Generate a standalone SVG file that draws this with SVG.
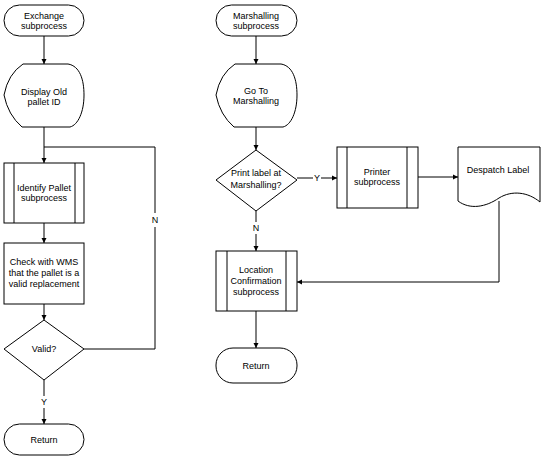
<svg xmlns="http://www.w3.org/2000/svg" width="556" height="470" viewBox="0 0 556 470">
<defs>
<style>
.s{fill:#fff;stroke:#000;stroke-width:1}
.l{fill:none;stroke:#000;stroke-width:1}
.a{fill:none;stroke:#000;stroke-width:1;marker-end:url(#ah)}
text{font-family:"Liberation Sans",Arial,sans-serif;font-size:9px;fill:#000;text-anchor:middle}
</style>
<marker id="ah" markerUnits="userSpaceOnUse" markerWidth="6" markerHeight="6" refX="5" refY="3" orient="auto">
<path d="M0,0.5 L5,3 L0,5.5 Z" fill="#000"/>
</marker>
</defs>
<rect width="556" height="470" fill="#fff"/>
<g id="connectors">
<line class="a" x1="44" y1="36" x2="44" y2="64"/>
<line class="a" x1="44" y1="127" x2="44" y2="163"/>
<line class="a" x1="44" y1="223" x2="44" y2="243"/>
<line class="a" x1="44" y1="304" x2="44" y2="320"/>
<polyline class="l" points="84,349 155,349 155,227"/>
<polyline class="l" points="155,213 155,147 44,147"/>
<text x="155" y="223">N</text>
<line class="l" x1="44" y1="380" x2="44" y2="396"/>
<text x="44" y="405">Y</text>
<line class="a" x1="44" y1="408" x2="44" y2="424"/>
<line class="a" x1="256" y1="36" x2="256" y2="64"/>
<line class="a" x1="256" y1="127" x2="256" y2="150"/>
<line class="l" x1="297" y1="178" x2="313" y2="178"/>
<text x="317" y="181">Y</text>
<line class="a" x1="321" y1="178" x2="337" y2="178"/>
<line class="a" x1="418" y1="177" x2="458" y2="177"/>
<line class="l" x1="256" y1="211" x2="256" y2="222"/>
<text x="256" y="231">N</text>
<line class="a" x1="256" y1="234" x2="256" y2="251"/>
<polyline class="a" points="499,201 499,282 297,282"/>
<line class="a" x1="256" y1="311" x2="256" y2="348"/>
</g>
<g id="exchange">
<rect class="s" x="4" y="5" width="80" height="31" rx="15.5"/>
<text x="44" y="19">Exchange</text>
<text x="44" y="29">subprocess</text>
</g>
<g id="display-old">
<path class="s" d="M23,64 L68,64 C80,66 84,80 84,95 C84,112 78,125 70,127 L22,127 Q8,115 4,95 Q8,74 23,64 Z"/>
<text x="44" y="95">Display Old</text>
<text x="44" y="105">pallet ID</text>
</g>
<g id="identify-pallet">
<rect class="s" x="4" y="163" width="80" height="60"/>
<line class="l" x1="14" y1="163" x2="14" y2="223"/>
<line class="l" x1="75" y1="163" x2="75" y2="223"/>
<text x="44" y="191">Identify Pallet</text>
<text x="44" y="201">subprocess</text>
</g>
<g id="check-wms">
<rect class="s" x="4" y="243" width="80" height="61"/>
<text x="44" y="265">Check with WMS</text>
<text x="44" y="276">that the pallet is a</text>
<text x="44" y="287">valid replacement</text>
</g>
<g id="valid">
<polygon class="s" points="44,320 84,349 44,380 4,349"/>
<text x="44" y="352">Valid?</text>
</g>
<g id="return-left">
<rect class="s" x="4" y="424" width="80" height="31" rx="15.5"/>
<text x="44" y="443">Return</text>
</g>
<g id="marshalling">
<rect class="s" x="216" y="5" width="81" height="31" rx="15.5"/>
<text x="256" y="19">Marshalling</text>
<text x="256" y="29">subprocess</text>
</g>
<g id="go-to-marshalling">
<path class="s" d="M235,64 L281,64 C293,66 297,80 297,95 C297,112 291,125 283,127 L234,127 Q220,115 216,95 Q220,74 235,64 Z"/>
<text x="256" y="94">Go To</text>
<text x="256" y="104">Marshalling</text>
</g>
<g id="print-label">
<polygon class="s" points="256,150 297,180 256,211 216,180"/>
<text x="256" y="176">Print label at</text>
<text x="256" y="188">Marshalling?</text>
</g>
<g id="printer">
<rect class="s" x="337" y="147" width="81" height="61"/>
<line class="l" x1="347" y1="147" x2="347" y2="208"/>
<line class="l" x1="407" y1="147" x2="407" y2="208"/>
<text x="377" y="175">Printer</text>
<text x="377" y="185">subprocess</text>
</g>
<g id="despatch-label">
<path class="s" d="M458,147 L540,147 L540,202 C528,192 512,190 499,198 C486,207 470,210 458,201 Z"/>
<text x="498" y="173">Despatch Label</text>
</g>
<g id="location-confirmation">
<rect class="s" x="216" y="251" width="81" height="60"/>
<line class="l" x1="227" y1="251" x2="227" y2="311"/>
<line class="l" x1="286" y1="251" x2="286" y2="311"/>
<text x="256" y="273">Location</text>
<text x="256" y="284">Confirmation</text>
<text x="256" y="295">subprocess</text>
</g>
<g id="return-right">
<rect class="s" x="216" y="348" width="81" height="35" rx="17"/>
<text x="256" y="369">Return</text>
</g>
</svg>
